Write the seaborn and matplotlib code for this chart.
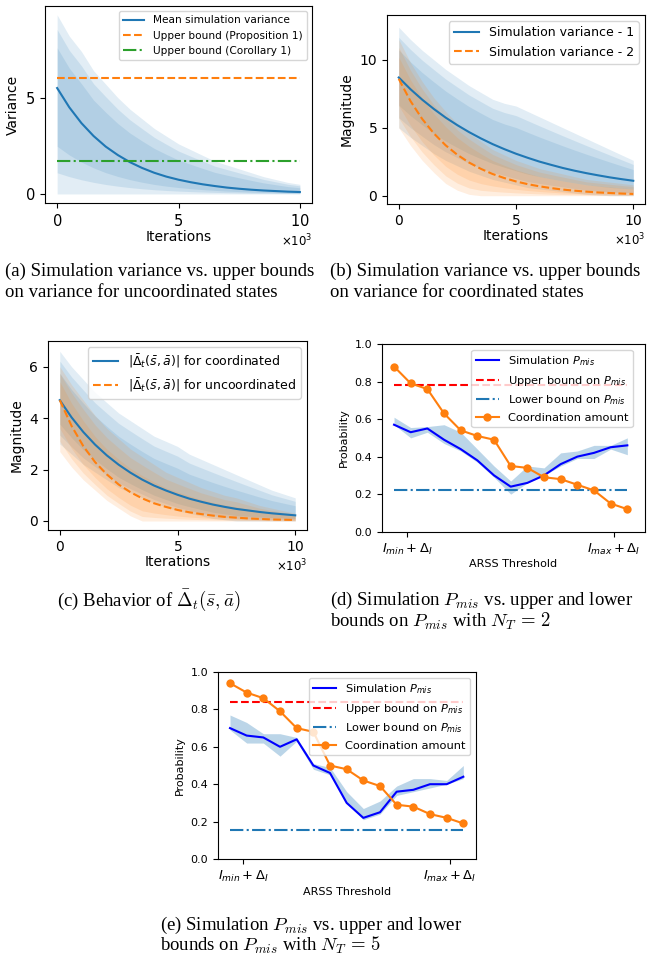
import numpy as np
import seaborn as sns
import matplotlib.pyplot as plt

plt.rcParams['font.family'] = 'DejaVu Sans'

# iterations axis for panels (a)-(c)
iters = np.arange(0, 10001, 500)

# (a) uncoordinated states
var_mean = [5.50, 4.50, 3.68, 3.01, 2.46, 2.02, 1.65, 1.35, 1.10, 0.90, 0.74,
            0.61, 0.50, 0.41, 0.33, 0.27, 0.22, 0.18, 0.15, 0.12, 0.10]
var_hi = [9.3, 8.2, 7.4, 6.4, 5.7, 5.0, 4.4, 3.9, 3.4, 3.0, 2.6,
          2.3, 2.0, 1.7, 1.5, 1.3, 1.1, 0.9, 0.75, 0.6, 0.5]
var_lo = [0.0] * 21
bound_prop1 = 6.0
bound_cor1 = 1.71

# (b) coordinated states
sim1_mean = [8.70, 7.84, 7.07, 6.38, 5.75, 5.19, 4.68, 4.22, 3.80, 3.43, 3.09,
             2.79, 2.51, 2.27, 2.04, 1.84, 1.66, 1.50, 1.35, 1.22, 1.10]
sim1_hi = [12.4, 11.5, 10.7, 10.0, 9.3, 8.7, 8.1, 7.6, 7.1, 6.8, 6.6,
           6.2, 5.8, 5.4, 5.0, 4.6, 4.2, 3.8, 3.4, 3.0, 2.6]
sim1_lo = [5.0, 4.3, 3.7, 3.1, 2.6, 2.2, 1.8, 1.5, 1.2, 1.0, 0.8,
           0.6, 0.5, 0.4, 0.3, 0.2, 0.1, 0.05, 0.0, 0.0, 0.0]
sim2_mean = [8.60, 6.97, 5.65, 4.58, 3.71, 3.01, 2.44, 1.98, 1.60, 1.30, 1.05,
             0.85, 0.69, 0.56, 0.45, 0.37, 0.30, 0.24, 0.20, 0.16, 0.13]
sim2_hi = [11.5, 9.8, 8.4, 7.2, 6.2, 5.3, 4.6, 4.0, 3.4, 3.0, 2.6,
           2.3, 2.0, 1.8, 1.6, 1.4, 1.2, 1.1, 1.0, 0.9, 0.8]
sim2_lo = [5.0, 3.7, 2.6, 1.7, 0.9, 0.4, 0.1, 0.0, 0.0, 0.0, 0.0,
           0.0, 0.0, 0.0, 0.0, 0.0, 0.0, 0.0, 0.0, 0.0, 0.0]

# (c) |Delta_t|
coord_mean = [4.70, 4.03, 3.46, 2.97, 2.55, 2.19, 1.88, 1.61, 1.38, 1.19, 1.02,
              0.87, 0.75, 0.64, 0.55, 0.47, 0.41, 0.35, 0.30, 0.26, 0.22]
coord_hi = [6.6, 6.0, 5.5, 5.0, 4.6, 4.2, 3.9, 3.6, 3.3, 3.1, 2.9,
            2.6, 2.4, 2.2, 2.0, 1.8, 1.6, 1.4, 1.2, 1.05, 0.9]
coord_lo = [3.0, 2.6, 2.2, 1.9, 1.6, 1.3, 1.1, 0.9, 0.7, 0.55, 0.4,
            0.3, 0.2, 0.1, 0.05, 0.0, 0.0, 0.0, 0.0, 0.0, 0.0]
uncoord_mean = [4.70, 3.70, 2.91, 2.29, 1.81, 1.42, 1.12, 0.88, 0.69, 0.55, 0.43,
                0.34, 0.27, 0.21, 0.16, 0.13, 0.10, 0.08, 0.06, 0.05, 0.04]
uncoord_hi = [6.0, 5.3, 4.7, 4.1, 3.6, 3.2, 2.8, 2.5, 2.2, 1.9, 1.7,
              1.5, 1.3, 1.15, 1.0, 0.9, 0.75, 0.6, 0.5, 0.4, 0.3]
uncoord_lo = [2.7, 2.1, 1.6, 1.2, 0.8, 0.5, 0.2, 0.0, 0.0, 0.0, 0.0,
              0.0, 0.0, 0.0, 0.0, 0.0, 0.0, 0.0, 0.0, 0.0, 0.0]

# (d), (e) ARSS threshold sweep
thresholds = np.arange(15)
tick_labels = [r'$I_{min} + \Delta_I$', r'$I_{max} + \Delta_I$']
tick_pos = [0.78, 13.2]

pmis_d = [0.57, 0.53, 0.55, 0.49, 0.44, 0.38, 0.30, 0.24, 0.26, 0.30, 0.36, 0.40, 0.42, 0.45, 0.46]
pmis_d_hi = [0.61, 0.555, 0.56, 0.57, 0.53, 0.44, 0.35, 0.27, 0.35, 0.34, 0.42, 0.43, 0.46, 0.46, 0.50]
pmis_d_lo = [0.57, 0.50, 0.53, 0.47, 0.43, 0.37, 0.29, 0.20, 0.26, 0.30, 0.35, 0.39, 0.39, 0.44, 0.41]
coord_d = [0.88, 0.79, 0.76, 0.63, 0.54, 0.51, 0.49, 0.35, 0.34, 0.29, 0.28, 0.25, 0.22, 0.15, 0.12]
upper_d, lower_d = 0.78, 0.22

pmis_e = [0.70, 0.66, 0.65, 0.60, 0.64, 0.50, 0.46, 0.30, 0.22, 0.25, 0.36, 0.37, 0.40, 0.40, 0.44]
pmis_e_hi = [0.77, 0.73, 0.67, 0.67, 0.65, 0.51, 0.49, 0.36, 0.27, 0.31, 0.39, 0.43, 0.43, 0.42, 0.50]
pmis_e_lo = [0.69, 0.62, 0.62, 0.55, 0.63, 0.48, 0.45, 0.30, 0.21, 0.24, 0.34, 0.36, 0.38, 0.40, 0.43]
coord_e = [0.94, 0.89, 0.86, 0.79, 0.70, 0.68, 0.50, 0.48, 0.42, 0.39, 0.29, 0.28, 0.24, 0.22, 0.19]
upper_e, lower_e = 0.84, 0.155

BLUE, ORANGE, GREEN = '#1f77b4', '#ff7f0e', '#2ca02c'

W, H = 655, 956
fig = plt.figure(figsize=(W / 100, H / 100), dpi=100)


def box(x0, x1, y0, y1):
    return [x0 / W, 1 - y1 / H, (x1 - x0) / W, (y1 - y0) / H]


def fuzzy_band(ax, x, mean, lo, hi, color):
    # layered fills so the band fades towards its edges
    mean, lo, hi = np.asarray(mean), np.asarray(lo), np.asarray(hi)
    for f in (1.0, 0.8, 0.55):
        ax.fill_between(x, mean - f * (mean - lo), mean + f * (hi - mean),
                        color=color, alpha=0.13, lw=0)


def iter_axis(ax, ylabel, tsize):
    ax.set_xticks([0, 5000, 10000])
    ax.ticklabel_format(axis='x', style='sci', scilimits=(3, 3), useMathText=True)
    ax.xaxis.get_offset_text().set_fontsize(8.5)
    ax.tick_params(labelsize=tsize)
    ax.set_xlabel('Iterations', fontsize=10, labelpad=1)
    ax.set_ylabel(ylabel, fontsize=10)


# ---- (a)
ax = fig.add_axes(box(45, 312, 6, 203))
fuzzy_band(ax, iters, var_mean, var_lo, var_hi, BLUE)
sns.lineplot(x=iters, y=var_mean, ax=ax, color=BLUE, label='Mean simulation variance')
sns.lineplot(x=iters[[0, -1]], y=[bound_prop1] * 2, ax=ax, color=ORANGE, linestyle='--',
             label='Upper bound (Proposition 1)')
sns.lineplot(x=iters[[0, -1]], y=[bound_cor1] * 2, ax=ax, color=GREEN, linestyle='-.',
             label='Upper bound (Corollary 1)')
ax.set_ylim(-0.47, 9.76)
ax.set_yticks([0, 5])
iter_axis(ax, 'Variance', 10.5)
ax.legend(loc='upper right', fontsize=7.6)

# ---- (b)
ax = fig.add_axes(box(387, 645, 15, 204))
fuzzy_band(ax, iters, sim1_mean, sim1_lo, sim1_hi, BLUE)
fuzzy_band(ax, iters, sim2_mean, sim2_lo, sim2_hi, ORANGE)
sns.lineplot(x=iters, y=sim1_mean, ax=ax, color=BLUE, label='Simulation variance - 1')
sns.lineplot(x=iters, y=sim2_mean, ax=ax, color=ORANGE, linestyle='--',
             label='Simulation variance - 2')
ax.set_ylim(-0.61, 13.3)
ax.set_yticks([0, 5, 10])
iter_axis(ax, 'Magnitude', 10)
ax.legend(loc='upper right', fontsize=9)

# ---- (c)
ax = fig.add_axes(box(48, 307, 341, 530))
fuzzy_band(ax, iters, coord_mean, coord_lo, coord_hi, BLUE)
fuzzy_band(ax, iters, uncoord_mean, uncoord_lo, uncoord_hi, ORANGE)
sns.lineplot(x=iters, y=coord_mean, ax=ax, color=BLUE,
             label=r'$|\bar{\Delta}_t(\bar{s}, \bar{a})|$ for coordinated')
sns.lineplot(x=iters, y=uncoord_mean, ax=ax, color=ORANGE, linestyle='--',
             label=r'$|\bar{\Delta}_t(\bar{s}, \bar{a})|$ for uncoordinated')
ax.set_ylim(-0.35, 7.0)
ax.set_yticks([0, 2, 4, 6])
iter_axis(ax, 'Magnitude', 10)
ax.legend(loc='upper right', fontsize=9)


# ---- (d), (e)
def pmis_panel(rect, xlim, pmis, lo, hi, coord, up, low, anchor):
    ax = fig.add_axes(rect)
    ax.fill_between(thresholds, lo, hi, color=BLUE, alpha=0.3, lw=0)
    sns.lineplot(x=thresholds, y=pmis, ax=ax, color='blue', label=r'Simulation $P_{mis}$')
    sns.lineplot(x=thresholds[[0, -1]], y=[up] * 2, ax=ax, color='red', linestyle='--',
                 label=r'Upper bound on $P_{mis}$')
    sns.lineplot(x=thresholds[[0, -1]], y=[low] * 2, ax=ax, color=BLUE, linestyle='-.',
                 label=r'Lower bound on $P_{mis}$')
    sns.lineplot(x=thresholds, y=coord, ax=ax, color=ORANGE, marker='o', markersize=6,
                 markeredgewidth=0, label='Coordination amount')
    ax.set_xlim(*xlim)
    ax.set_ylim(0, 1)
    ax.set_xticks(tick_pos)
    ax.set_xticklabels(tick_labels, fontsize=9.4)
    ax.tick_params(axis='y', labelsize=8)
    ax.set_xlabel('ARSS Threshold', fontsize=8, labelpad=2)
    ax.set_ylabel('Probability', fontsize=8)
    ax.legend(loc='upper right', bbox_to_anchor=anchor, fontsize=8.2)


pmis_panel(box(381.7, 645, 344, 531.7), (-0.74, 15.06),
           pmis_d, pmis_d_lo, pmis_d_hi, coord_d, upper_d, lower_d, (0.975, 1.0))
pmis_panel(box(218, 476, 672, 859), (-0.72, 14.76),
           pmis_e, pmis_e_lo, pmis_e_hi, coord_e, upper_e, lower_e, (1.0, 1.0))

# ---- captions
captions = [
    (5, 271, '(a) Simulation variance vs. upper bounds'),
    (5, 292, 'on variance for uncoordinated states'),
    (330, 271, '(b) Simulation variance vs. upper bounds'),
    (330, 292, 'on variance for coordinated states'),
    (57, 600, r'(c) Behavior of $\bar{\Delta}_t(\bar{s}, \bar{a})$'),
    (330, 600, r'(d) Simulation $P_{mis}$ vs. upper and lower'),
    (330, 621, r'bounds on $P_{mis}$ with $N_T\,=\,2$'),
    (160, 925, r'(e) Simulation $P_{mis}$ vs. upper and lower'),
    (160, 945, r'bounds on $P_{mis}$ with $N_T\,=\,5$'),
]
for x, y, s in captions:
    fig.text(x / W, 1 - y / H, s, ha='left', va='center', fontsize=13.5,
             family='Liberation Serif', math_fontfamily='cm')

plt.savefig('out.png', dpi=100)
